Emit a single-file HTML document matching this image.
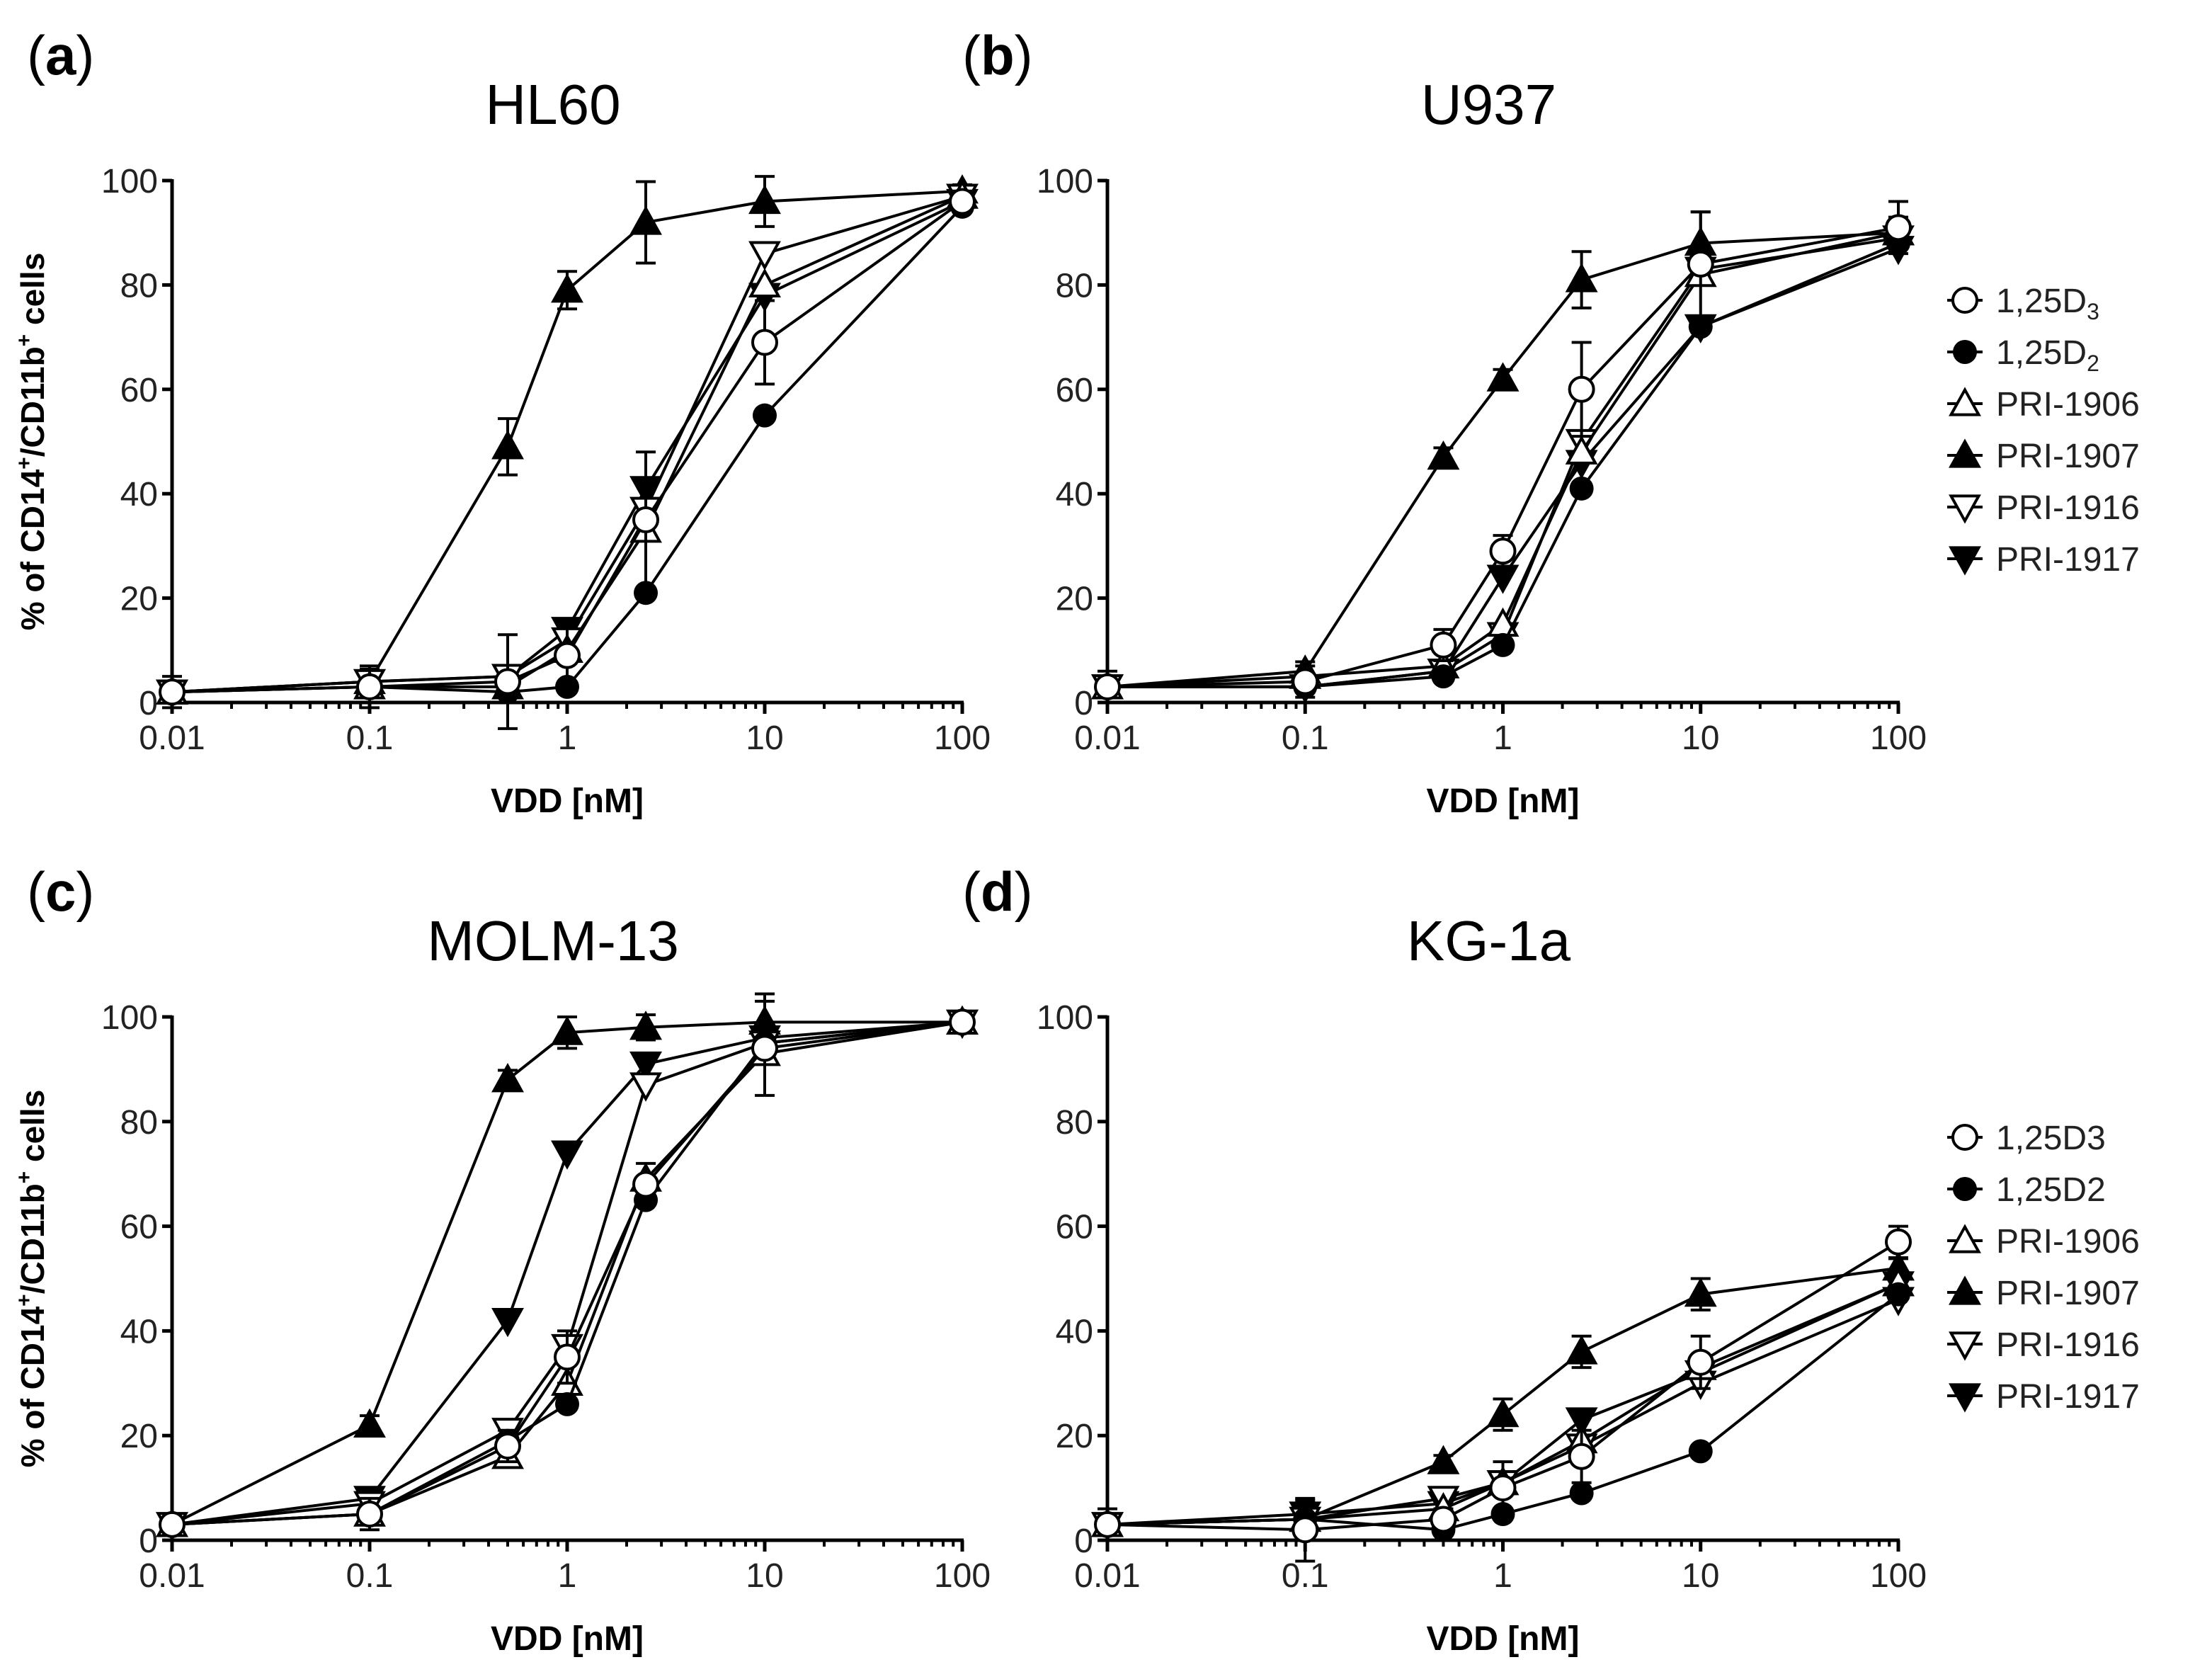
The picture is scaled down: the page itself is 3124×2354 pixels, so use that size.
<!DOCTYPE html>
<html><head><meta charset="utf-8"><style>
body{margin:0;background:#fff}
svg{display:block;font-family:"Liberation Sans",Arial,sans-serif}
</style></head><body>
<svg id="fig" width="3124" height="2354" viewBox="0 0 3124 2354" xmlns="http://www.w3.org/2000/svg"></svg>
<script>
const xValues=[0.01,0.1,0.5,1,2.5,10,100];
const seriesNames=["1,25D3","1,25D2","PRI-1906","PRI-1907","PRI-1916","PRI-1917"];
const yTicks=[0,20,40,60,80,100];
const xTickLabels=["0.01","0.1","1","10","100"];
const xTickVals=[0.01,0.1,1,10,100];
const aD3=[2,3,4,9,35,69,96], aD2=[2,3,2,3,21,55,95], a1906=[2,3,3,10,33,80,97], a1907=[2,4,49,79,92,96,98], a1916=[2,4,5,12,37,86,97], a1917=[2,4,5,14,41,78,96];
const bD3=[3,4,11,29,60,84,91], bD2=[3,3,5,11,41,72,88], b1906=[3,5,7,15,48,82,90], b1907=[3,6,47,62,81,88,90], b1916=[3,3,6,13,50,83,89], b1917=[3,3,6,24,46,72,87];
const cD3=[3,5,18,35,68,94,99], cD2=[3,5,19,26,65,95,99], c1906=[3,5,16,30,69,93,99], c1907=[3,22,88,97,98,99,99], c1916=[3,7,21,37,87,95,99], c1917=[3,8,42,74,91,96,99];
const dD3=[3,2,4,10,16,34,57], dD2=[3,4,2,5,9,17,47], d1906=[3,4,6,11,19,33,49], d1907=[3,4,15,24,36,47,52], d1916=[3,4,8,11,18,30,46], d1917=[3,5,7,11,23,32,49];
const aErr=[3,4,9,6,13,8,2], bErr=[3,3,3,3,9,10,5], cErr=[2,3,3,5,4,9,2], dErr=[3,6,2,5,5,5,3];
const panels=[
 {id:"a",title:"HL60",x0:243,x1:1359,yb:992,yt:255,data:[aD3,aD2,a1906,a1907,a1916,a1917],err:aErr,legend:null,ylab:true},
 {id:"b",title:"U937",x0:1564,x1:2681,yb:992,yt:255,data:[bD3,bD2,b1906,b1907,b1916,b1917],err:bErr,legend:{y:424,sub:true},ylab:false},
 {id:"c",title:"MOLM-13",x0:243,x1:1359,yb:2175,yt:1436,data:[cD3,cD2,c1906,c1907,c1916,c1917],err:cErr,legend:null,ylab:true},
 {id:"d",title:"KG-1a",x0:1564,x1:2681,yb:2175,yt:1436,data:[dD3,dD2,d1906,d1907,d1916,d1917],err:dErr,legend:{y:1606,sub:false},ylab:false}
];
const NS="http://www.w3.org/2000/svg";
const svg=document.getElementById("fig");
function el(t,a,p){const e=document.createElementNS(NS,t);for(const k in a)e.setAttribute(k,a[k]);(p||svg).appendChild(e);return e;}
function marker(g,k,x,y,r){
 const sw=4;
 if(k===0)return el("circle",{cx:x,cy:y,r:r,fill:"#fff",stroke:"#000","stroke-width":sw},g);
 if(k===1)return el("circle",{cx:x,cy:y,r:r,fill:"#000"},g);
 const h=r*1.15;
 if(k===2||k===3)return el("polygon",{points:`${x},${y-h} ${x-h},${y+h*0.8} ${x+h},${y+h*0.8}`,fill:k===3?"#000":"#fff",stroke:"#000","stroke-width":sw},g);
 return el("polygon",{points:`${x},${y+h} ${x-h},${y-h*0.8} ${x+h},${y-h*0.8}`,fill:k===5?"#000":"#fff",stroke:"#000","stroke-width":sw},g);
}
panels.forEach(p=>{
 const g=el("g",{});
 
 
 const sx=v=>p.x0+(Math.log10(v)+2)/4*(p.x1-p.x0);
 const sy=v=>p.yb-v/100*(p.yb-p.yt);
 const lab=el("text",{x:p.x0-205,y:p.yt-150,"font-size":78},g);
 lab.innerHTML=`(<tspan font-weight="bold">${p.id}</tspan>)`;
 
 
 const tt=el("text",{x:(p.x0+p.x1)/2-20,y:p.yt-80,"font-size":80,"text-anchor":"middle"},g);
 tt.textContent=p.title;
 
 
 // axes
 el("line",{x1:p.x0,y1:p.yb+2,x2:p.x0,y2:p.yt-2,stroke:"#000","stroke-width":5},g);
 el("line",{x1:p.x0-2,y1:p.yb,x2:p.x1+2,y2:p.yb,stroke:"#000","stroke-width":5},g);
 yTicks.forEach(t=>{
  el("line",{x1:p.x0-14,y1:sy(t),x2:p.x0,y2:sy(t),stroke:"#000","stroke-width":5},g);
  const tx=el("text",{x:p.x0-20,y:sy(t)+17,"font-size":48,"text-anchor":"end",fill:"#222"},g);
  tx.textContent=t;
  
  
 });
 xTickVals.forEach((v,i)=>{
  el("line",{x1:sx(v),y1:p.yb,x2:sx(v),y2:p.yb+16,stroke:"#000","stroke-width":5},g);
  const tx=el("text",{x:sx(v),y:p.yb+66,"font-size":48,"text-anchor":"middle",fill:"#222"},g);
  tx.textContent=xTickLabels[i];
  
  
  if(i<4)for(let m=2;m<10;m++)el("line",{x1:sx(v*m),y1:p.yb,x2:sx(v*m),y2:p.yb+9,stroke:"#000","stroke-width":4},g);
 });
 const xl=el("text",{x:(p.x0+p.x1)/2,y:p.yb+155,"font-size":48,"font-weight":"bold","text-anchor":"middle"},g);
 xl.textContent="VDD [nM]";
 
 
 if(p.ylab){
  const yl=el("text",{x:0,y:0,"font-size":46,"font-weight":"bold","text-anchor":"middle",transform:`translate(62,${(p.yb+p.yt)/2}) rotate(-90)`},g);
  yl.innerHTML='% of CD14<tspan dy="-18" font-size="30">+</tspan><tspan dy="18">/CD11b</tspan><tspan dy="-18" font-size="30">+</tspan><tspan dy="18"> cells</tspan>';
  
  
 }
 // series
 const order=[3,5,4,2,1,0];
 order.forEach(k=>{
  const vals=p.data[k];
  const sg=el("g",{},g);
  
  
  el("polyline",{points:vals.map((v,i)=>sx(xValues[i])+","+sy(v)).join(" "),fill:"none",stroke:"#000","stroke-width":4},sg);
  if(k===3||k===0){
   vals.forEach((v,i)=>{
    const e=p.err[i]*(k===3?0.6:1), x=sx(xValues[i]);
    if(e<1)return;
    el("line",{x1:x,y1:sy(v-e),x2:x,y2:sy(v+e),stroke:"#000","stroke-width":4},sg);
    el("line",{x1:x-14,y1:sy(v-e),x2:x+14,y2:sy(v-e),stroke:"#000","stroke-width":4},sg);
    el("line",{x1:x-14,y1:sy(v+e),x2:x+14,y2:sy(v+e),stroke:"#000","stroke-width":4},sg);
   });
  }
  vals.forEach((v,i)=>{
   const m=marker(sg,k,sx(xValues[i]),sy(v),17);
   
   
  });
 });
 if(p.legend){
  const lg=el("g",{},g);
  
  
  seriesNames.forEach((n,k)=>{
   const y=p.legend.y+k*73;
   el("line",{x1:2750,y1:y,x2:2800,y2:y,stroke:"#000","stroke-width":4},lg);
   marker(lg,k,2775,y,17);
   const t=el("text",{x:2819,y:y+17,"font-size":48,fill:"#222"},lg);
   if(p.legend.sub&&k<2)t.innerHTML=n.slice(0,5)+'<tspan font-size="32" dy="10">'+n.slice(5)+'</tspan>';
   else t.textContent=n;
   
   
  });
 }
});
</script>
</body></html>
